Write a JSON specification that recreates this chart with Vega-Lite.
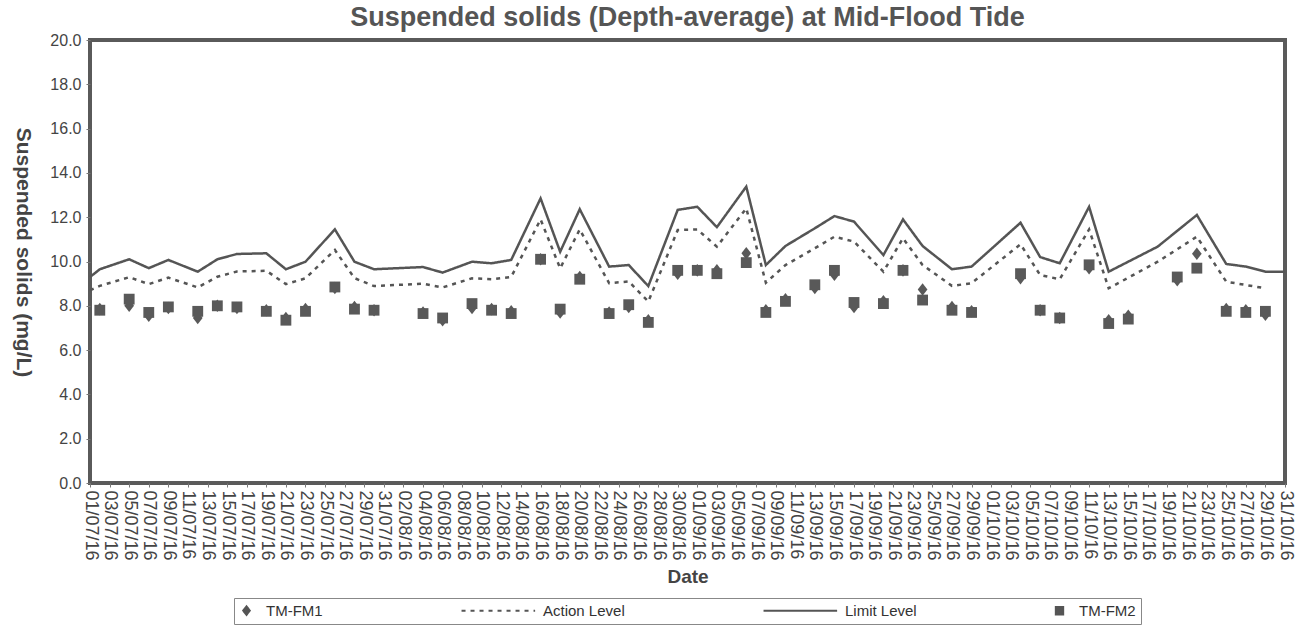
{
  "$schema": "https://vega.github.io/schema/vega-lite/v6.json",
  "width": 1195,
  "height": 443,
  "autosize": {"type": "none"},
  "padding": {"left": 90, "top": 40, "right": 18, "bottom": 145},
  "background": "white",
  "config": {
    "view": {"stroke": "#5a5a5a", "strokeWidth": 4},
    "font": "Liberation Sans"
  },
  "title": {
    "text": "Suspended solids (Depth-average) at Mid-Flood Tide",
    "fontSize": 27,
    "font": "Liberation Sans",
    "fontWeight": "bold",
    "color": "#555555",
    "anchor": "middle",
    "offset": 0
  },
  "datasets": {
    "samples": [
      {"date": "2016-07-02", "TM-FM1": 7.85, "TM-FM2": 7.8},
      {"date": "2016-07-05", "TM-FM1": 8.0, "TM-FM2": 8.3},
      {"date": "2016-07-07", "TM-FM1": 7.55, "TM-FM2": 7.7},
      {"date": "2016-07-09", "TM-FM1": 7.9, "TM-FM2": 7.95},
      {"date": "2016-07-12", "TM-FM1": 7.45, "TM-FM2": 7.75},
      {"date": "2016-07-14", "TM-FM1": 8.0, "TM-FM2": 8.0},
      {"date": "2016-07-16", "TM-FM1": 7.9, "TM-FM2": 7.95},
      {"date": "2016-07-19", "TM-FM1": 7.8, "TM-FM2": 7.75},
      {"date": "2016-07-21", "TM-FM1": 7.45, "TM-FM2": 7.35},
      {"date": "2016-07-23", "TM-FM1": 7.85, "TM-FM2": 7.75},
      {"date": "2016-07-26", "TM-FM1": 8.8, "TM-FM2": 8.85},
      {"date": "2016-07-28", "TM-FM1": 7.95, "TM-FM2": 7.85},
      {"date": "2016-07-30", "TM-FM1": 7.8, "TM-FM2": 7.8},
      {"date": "2016-08-04", "TM-FM1": 7.7, "TM-FM2": 7.65},
      {"date": "2016-08-06", "TM-FM1": 7.35, "TM-FM2": 7.45},
      {"date": "2016-08-09", "TM-FM1": 7.9, "TM-FM2": 8.1},
      {"date": "2016-08-11", "TM-FM1": 7.85, "TM-FM2": 7.8},
      {"date": "2016-08-13", "TM-FM1": 7.75, "TM-FM2": 7.65},
      {"date": "2016-08-16", "TM-FM1": 10.1, "TM-FM2": 10.1},
      {"date": "2016-08-18", "TM-FM1": 7.7, "TM-FM2": 7.85},
      {"date": "2016-08-20", "TM-FM1": 9.3, "TM-FM2": 9.2},
      {"date": "2016-08-23", "TM-FM1": 7.7, "TM-FM2": 7.65},
      {"date": "2016-08-25", "TM-FM1": 7.95, "TM-FM2": 8.05},
      {"date": "2016-08-27", "TM-FM1": 7.35, "TM-FM2": 7.25},
      {"date": "2016-08-30", "TM-FM1": 9.45, "TM-FM2": 9.6},
      {"date": "2016-09-01", "TM-FM1": 9.6, "TM-FM2": 9.6},
      {"date": "2016-09-03", "TM-FM1": 9.6, "TM-FM2": 9.45},
      {"date": "2016-09-06", "TM-FM1": 10.37, "TM-FM2": 9.95},
      {"date": "2016-09-08", "TM-FM1": 7.8, "TM-FM2": 7.7},
      {"date": "2016-09-10", "TM-FM1": 8.3, "TM-FM2": 8.2},
      {"date": "2016-09-13", "TM-FM1": 8.8, "TM-FM2": 8.95},
      {"date": "2016-09-15", "TM-FM1": 9.4, "TM-FM2": 9.6},
      {"date": "2016-09-17", "TM-FM1": 7.95, "TM-FM2": 8.15},
      {"date": "2016-09-20", "TM-FM1": 8.2, "TM-FM2": 8.1},
      {"date": "2016-09-22", "TM-FM1": 9.6, "TM-FM2": 9.6},
      {"date": "2016-09-24", "TM-FM1": 8.74, "TM-FM2": 8.26},
      {"date": "2016-09-27", "TM-FM1": 7.95, "TM-FM2": 7.8},
      {"date": "2016-09-29", "TM-FM1": 7.75, "TM-FM2": 7.7},
      {"date": "2016-10-04", "TM-FM1": 9.25, "TM-FM2": 9.45},
      {"date": "2016-10-06", "TM-FM1": 7.8, "TM-FM2": 7.8},
      {"date": "2016-10-08", "TM-FM1": 7.45, "TM-FM2": 7.45},
      {"date": "2016-10-11", "TM-FM1": 9.7, "TM-FM2": 9.85},
      {"date": "2016-10-13", "TM-FM1": 7.35, "TM-FM2": 7.2},
      {"date": "2016-10-15", "TM-FM1": 7.55, "TM-FM2": 7.4},
      {"date": "2016-10-20", "TM-FM1": 9.15, "TM-FM2": 9.3},
      {"date": "2016-10-22", "TM-FM1": 10.35, "TM-FM2": 9.7},
      {"date": "2016-10-25", "TM-FM1": 7.85, "TM-FM2": 7.75},
      {"date": "2016-10-27", "TM-FM1": 7.8, "TM-FM2": 7.7},
      {"date": "2016-10-29", "TM-FM1": 7.6, "TM-FM2": 7.75}
    ],
    "levels": [
      {"date": "2016-07-01", "Action Level": 8.7, "Limit Level": 9.3},
      {"date": "2016-07-02", "Action Level": 8.9, "Limit Level": 9.65},
      {"date": "2016-07-05", "Action Level": 9.29, "Limit Level": 10.1},
      {"date": "2016-07-07", "Action Level": 8.98, "Limit Level": 9.7},
      {"date": "2016-07-09", "Action Level": 9.27, "Limit Level": 10.07},
      {"date": "2016-07-12", "Action Level": 8.83, "Limit Level": 9.54},
      {"date": "2016-07-14", "Action Level": 9.31, "Limit Level": 10.1},
      {"date": "2016-07-16", "Action Level": 9.55, "Limit Level": 10.34},
      {"date": "2016-07-19", "Action Level": 9.58, "Limit Level": 10.37},
      {"date": "2016-07-21", "Action Level": 8.98, "Limit Level": 9.65},
      {"date": "2016-07-23", "Action Level": 9.24, "Limit Level": 9.99},
      {"date": "2016-07-26", "Action Level": 10.52, "Limit Level": 11.45},
      {"date": "2016-07-28", "Action Level": 9.25, "Limit Level": 9.99},
      {"date": "2016-07-30", "Action Level": 8.89, "Limit Level": 9.65},
      {"date": "2016-08-04", "Action Level": 9.0, "Limit Level": 9.75},
      {"date": "2016-08-06", "Action Level": 8.83, "Limit Level": 9.5},
      {"date": "2016-08-09", "Action Level": 9.24, "Limit Level": 9.99},
      {"date": "2016-08-11", "Action Level": 9.2, "Limit Level": 9.92},
      {"date": "2016-08-13", "Action Level": 9.3, "Limit Level": 10.07},
      {"date": "2016-08-16", "Action Level": 11.9, "Limit Level": 12.85},
      {"date": "2016-08-18", "Action Level": 9.69, "Limit Level": 10.44},
      {"date": "2016-08-20", "Action Level": 11.45, "Limit Level": 12.36},
      {"date": "2016-08-23", "Action Level": 9.02, "Limit Level": 9.77},
      {"date": "2016-08-25", "Action Level": 9.1, "Limit Level": 9.84},
      {"date": "2016-08-27", "Action Level": 8.19, "Limit Level": 8.89},
      {"date": "2016-08-30", "Action Level": 11.42, "Limit Level": 12.33},
      {"date": "2016-09-01", "Action Level": 11.45, "Limit Level": 12.47},
      {"date": "2016-09-03", "Action Level": 10.67, "Limit Level": 11.55},
      {"date": "2016-09-06", "Action Level": 12.4, "Limit Level": 13.38},
      {"date": "2016-09-08", "Action Level": 9.04, "Limit Level": 9.84},
      {"date": "2016-09-10", "Action Level": 9.84, "Limit Level": 10.7},
      {"date": "2016-09-13", "Action Level": 10.6, "Limit Level": 11.5},
      {"date": "2016-09-15", "Action Level": 11.12, "Limit Level": 12.05},
      {"date": "2016-09-17", "Action Level": 10.9, "Limit Level": 11.8},
      {"date": "2016-09-20", "Action Level": 9.54, "Limit Level": 10.29},
      {"date": "2016-09-22", "Action Level": 11.05, "Limit Level": 11.9},
      {"date": "2016-09-24", "Action Level": 9.84, "Limit Level": 10.7},
      {"date": "2016-09-27", "Action Level": 8.9, "Limit Level": 9.65},
      {"date": "2016-09-29", "Action Level": 9.02, "Limit Level": 9.77},
      {"date": "2016-10-04", "Action Level": 10.78, "Limit Level": 11.75},
      {"date": "2016-10-06", "Action Level": 9.39, "Limit Level": 10.2},
      {"date": "2016-10-08", "Action Level": 9.2, "Limit Level": 9.92},
      {"date": "2016-10-11", "Action Level": 11.45, "Limit Level": 12.47},
      {"date": "2016-10-13", "Action Level": 8.79, "Limit Level": 9.54},
      {"date": "2016-10-18", "Action Level": 9.99, "Limit Level": 10.67},
      {"date": "2016-10-22", "Action Level": 11.12, "Limit Level": 12.1},
      {"date": "2016-10-25", "Action Level": 9.09, "Limit Level": 9.89},
      {"date": "2016-10-27", "Action Level": 8.94, "Limit Level": 9.77},
      {"date": "2016-10-29", "Action Level": 8.79, "Limit Level": 9.54},
      {"date": "2016-10-31", "Limit Level": 9.54}
    ]
  },
  "encoding": {
    "x": {
      "field": "date",
      "type": "temporal",
      "title": "Date",
      "scale": {"type": "utc", "domain": [1467331200000, 1477872000000]},
      "axis": {
        "values": [1467331200000, 1467504000000, 1467676800000, 1467849600000, 1468022400000, 1468195200000, 1468368000000, 1468540800000, 1468713600000, 1468886400000, 1469059200000, 1469232000000, 1469404800000, 1469577600000, 1469750400000, 1469923200000, 1470096000000, 1470268800000, 1470441600000, 1470614400000, 1470787200000, 1470960000000, 1471132800000, 1471305600000, 1471478400000, 1471651200000, 1471824000000, 1471996800000, 1472169600000, 1472342400000, 1472515200000, 1472688000000, 1472860800000, 1473033600000, 1473206400000, 1473379200000, 1473552000000, 1473724800000, 1473897600000, 1474070400000, 1474243200000, 1474416000000, 1474588800000, 1474761600000, 1474934400000, 1475107200000, 1475280000000, 1475452800000, 1475625600000, 1475798400000, 1475971200000, 1476144000000, 1476316800000, 1476489600000, 1476662400000, 1476835200000, 1477008000000, 1477180800000, 1477353600000, 1477526400000, 1477699200000, 1477872000000],
        "labelExpr": "utcFormat(datum.value, '%d/%m/%y')",
        "labelAngle": 90,
        "labelFontSize": 18,
        "labelFont": "Liberation Sans",
        "labelColor": "#444444",
        "labelOverlap": false,
        "labelFlush": false,
        "labelPadding": 3,
        "tickSize": 4,
        "tickColor": "#777777",
        "domain": false,
        "grid": false,
        "titleFont": "Liberation Sans",
        "titleFontSize": 19,
        "titleFontWeight": "bold",
        "titleColor": "#444444",
        "titlePadding": 7
      }
    },
    "y": {
      "field": "value",
      "type": "quantitative",
      "title": "Suspended solids (mg/L)",
      "scale": {"domain": [0, 20], "nice": false},
      "axis": {
        "values": [0, 2, 4, 6, 8, 10, 12, 14, 16, 18, 20],
        "format": ".1f",
        "labelFontSize": 16,
        "labelFont": "Liberation Sans",
        "labelColor": "#444444",
        "labelPadding": 5,
        "tickSize": 4,
        "tickColor": "#777777",
        "domain": false,
        "grid": false,
        "titleAngle": 90,
        "titleX": -68,
        "titleY": 212,
        "titleAlign": "center",
        "titleBaseline": "middle",
        "titleFont": "Liberation Sans",
        "titleFontSize": 21,
        "titleFontWeight": "bold",
        "titleColor": "#444444"
      }
    }
  },
  "layer": [
    {
      "data": {"name": "levels"},
      "transform": [{"fold": ["Action Level", "Limit Level"], "as": ["series", "value"]}],
      "mark": {"type": "line", "color": "#555555", "strokeWidth": 2.5},
      "encoding": {
        "strokeDash": {
          "field": "series",
          "type": "nominal",
          "scale": {
            "domain": ["TM-FM1", "Action Level", "Limit Level", "TM-FM2"],
            "range": [[1, 0], [4, 5], [1, 0], [1, 0]]
          },
          "legend": {
            "title": null,
            "orient": "none",
            "legendX": 144,
            "legendY": 558,
            "direction": "horizontal",
            "columns": 4,
            "columnPadding": 134,
            "padding": 5,
            "strokeColor": "#888888",
            "labelFontSize": 15,
            "labelFont": "Liberation Sans",
            "labelColor": "#333333",
            "labelOffset": 12,
            "symbolSize": 60,
            "symbolFillColor": "#555555",
            "symbolStrokeColor": "#555555",
            "symbolStrokeWidth": 2,
            "encode": {"symbols": {"update": {"fill": {"value": "#555555"}, "stroke": {"value": "#555555"}, "strokeWidth": {"value": 2}, "opacity": {"value": 1}}}}
          }
        }
      }
    },
    {
      "data": {"name": "samples"},
      "transform": [{"fold": ["TM-FM1", "TM-FM2"], "as": ["series", "value"]}],
      "mark": {"type": "point", "filled": true, "color": "#595959", "opacity": 1, "size": 130},
      "encoding": {
        "shape": {
          "field": "series",
          "type": "nominal",
          "scale": {
            "domain": ["TM-FM1", "Action Level", "Limit Level", "TM-FM2"],
            "range": ["M0,-1.1L0.85,0L0,1.1L-0.85,0Z", "M-16,0H3", "M-16,0H3", "M-0.95,-0.95H0.95V0.95H-0.95Z"]
          },
          "legend": {
            "title": null,
            "orient": "none",
            "legendX": 144,
            "legendY": 558,
            "direction": "horizontal",
            "columns": 4,
            "columnPadding": 134,
            "padding": 5,
            "strokeColor": "#888888",
            "labelFontSize": 15,
            "labelFont": "Liberation Sans",
            "labelColor": "#333333",
            "labelOffset": 12,
            "symbolSize": 60,
            "symbolFillColor": "#555555",
            "symbolStrokeColor": "#555555",
            "symbolStrokeWidth": 2,
            "encode": {"symbols": {"update": {"fill": {"value": "#555555"}, "stroke": {"value": "#555555"}, "strokeWidth": {"value": 2}, "opacity": {"value": 1}}}}
          }
        }
      }
    }
  ]
}
